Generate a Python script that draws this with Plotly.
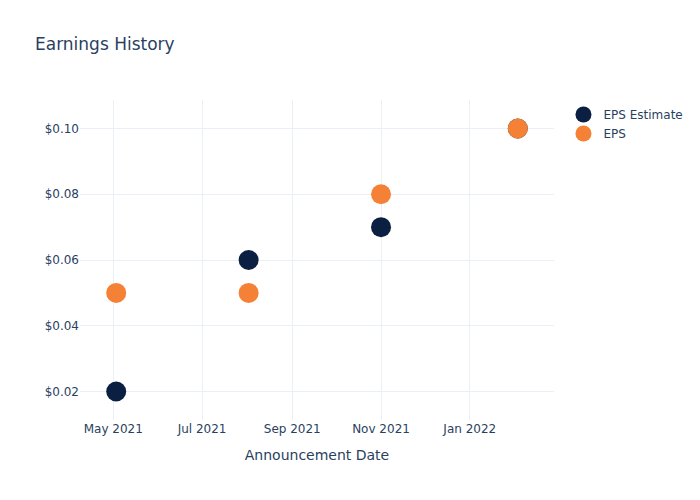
import plotly.graph_objects as go

dates = ["2021-05-03", "2021-08-02", "2021-11-01", "2022-02-03"]
eps_estimate = [0.02, 0.06, 0.07, 0.10]
eps_actual = [0.05, 0.05, 0.08, 0.10]

fig = go.Figure()
fig.add_trace(go.Scatter(x=dates, y=eps_estimate, mode="markers", name="EPS Estimate",
                         marker=dict(color="#0b1f42", size=20)))
fig.add_trace(go.Scatter(x=dates, y=eps_actual, mode="markers", name="EPS",
                         marker=dict(color="#f58136", size=20)))
fig.update_layout(
    template="plotly_white",
    width=700, height=500,
    font=dict(family="DejaVu Sans"),
    title=dict(text="Earnings History"),
    xaxis=dict(title="Announcement Date"),
    yaxis=dict(tickformat="$.2f"),
)
fig.write_html("out.html")
